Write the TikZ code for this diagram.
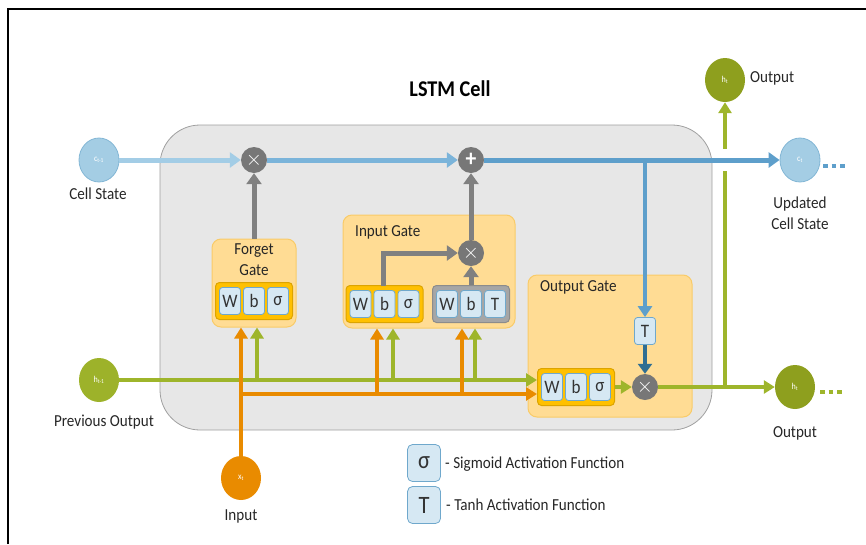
\documentclass[tikz,border=0pt]{standalone}
\usepackage{fontspec}
\setmainfont{Carlito}[FakeStretch=0.9]
\usetikzlibrary{arrows.meta,shapes.geometric}

\definecolor{cellfill}{HTML}{E7E7E7}
\definecolor{cellline}{HTML}{A0A0A0}
\definecolor{gatefill}{HTML}{FFDC94}
\definecolor{gateline}{HTML}{F9CB68}
\definecolor{barfill}{HTML}{FFC000}
\definecolor{barline}{HTML}{DCA400}
\definecolor{tanhfill}{HTML}{A6A6A6}
\definecolor{tanhline}{HTML}{8C8C8C}
\definecolor{unitfill}{HTML}{D6E8F3}
\definecolor{unitline}{HTML}{6FA8CC}
\definecolor{opgray}{HTML}{777777}
\definecolor{arrgray}{HTML}{808080}
\definecolor{blueA}{HTML}{A3CDE6}
\definecolor{blueB}{HTML}{7BB4DA}
\definecolor{blueC}{HTML}{5E9FCB}
\definecolor{blueD}{HTML}{2F6E92}
\definecolor{cfill}{HTML}{A4CDE4}
\definecolor{cline}{HTML}{82B6D5}
\definecolor{grn}{HTML}{9EB52B}
\definecolor{hfill}{HTML}{8E9F1E}
\definecolor{hprevfill}{HTML}{9DB22A}
\definecolor{org}{HTML}{E98B00}

% one W | b | f block of a gate
\newcommand\gatebar[5]{%
  \node[#5] (#1) at (#2,#3) {};
  \node[unit] (#1-w) at (#2-24,#3) {W};
  \node[unit] (#1-b) at (#2,#3) {b};
  \node[unit] (#1-f) at (#2+24,#3) {#4};
}

\begin{document}
\begin{tikzpicture}[x=1pt,y=-1pt,
  lab/.style={font=\fontsize{16.8}{19}\selectfont, text=black!85, align=center, inner sep=0pt},
  state/.style={ellipse, minimum width=40pt, minimum height=44pt, inner sep=0pt,
                text=white, font=\fontsize{9}{9}\selectfont},
  cstate/.style={state, fill=cfill, draw=cline, line width=0.8pt},
  hstate/.style={state, fill=hfill},
  op/.style={circle, fill=opgray, minimum size=26pt, inner sep=0pt, text=white},
  gatebox/.style={fill=gatefill, draw=gateline, line width=1pt, rounded corners=9pt},
  sigbar/.style={fill=barfill, draw=barline, line width=1pt, rounded corners=4pt,
                 minimum width=77pt, minimum height=37pt},
  tanhbar/.style={sigbar, fill=tanhfill, draw=tanhline},
  unit/.style={fill=unitfill, draw=unitline, line width=0.8pt, rounded corners=3pt,
               minimum width=21pt, minimum height=27pt, inner sep=0pt,
               font=\fontsize{19}{19}\selectfont, text=black!80},
  thick arrow/.style={line width=5pt, -{Triangle[length=11pt,width=15pt]}},
  thin arrow/.style={line width=4pt, -{Triangle[length=11pt,width=13pt]}},
]
\useasboundingbox (0,0) rectangle (866,544);

% frame
\draw[line width=2pt] (8,544) -- (8,9) -- (866,9);

% title
\node[font=\bfseries\fontsize{22.5}{24}\selectfont] (title) at (450,89) {LSTM Cell};

% cell body
\node[fill=cellfill, draw=cellline, line width=0.8pt, rounded corners=40pt,
      minimum width=552pt, minimum height=305pt] (cell) at (436,277.5) {};

% gate areas
\node[gatebox, minimum width=84pt, minimum height=88pt] (fgate) at (254,283) {};
\node[gatebox, minimum width=172pt, minimum height=113pt] (igate) at (429,271.5) {};
\node[gatebox, minimum width=164pt, minimum height=142pt] (ogate) at (610,346) {};

\node[lab] (fgatelab) at (254,260) {Forget\\[2pt]Gate};
\node[lab, anchor=west] (igatelab) at (355,232) {Input Gate};
\node[lab, anchor=west] (ogatelab) at (540,287) {Output Gate};

% gate blocks
\gatebar{fbar}{254}{301}{σ}{sigbar}
\gatebar{ibar}{384.5}{304}{σ}{sigbar}
\gatebar{tbar}{471}{304}{T}{tanhbar}
\gatebar{obar}{576}{387}{σ}{sigbar}

% pointwise operations
\node[op, font=\fontsize{20}{20}\selectfont] (fx) at (254,160) {$\times$};
\node[op, font=\bfseries\fontsize{24}{24}\selectfont] (add) at (471,160) {+};
\node[op, font=\fontsize{20}{20}\selectfont] (ix) at (471,253) {$\times$};
\node[op, font=\fontsize{20}{20}\selectfont] (ox) at (645,387) {$\times$};
\node[unit] (tout) at (645,331) {T};

% states
\node[cstate] (cprev) at (99,160) {c\textsubscript{t-1}};
\node[cstate] (cnext) at (800,160) {c\textsubscript{t}};
\node[hstate, fill=hprevfill] (hprev) at (99,380) {h\textsubscript{t-1}};
\node[hstate] (hnext) at (795,387) {h\textsubscript{t}};
\node[hstate] (hup) at (725,80) {h\textsubscript{t}};
\node[state, fill=org] (xin) at (241,478) {x\textsubscript{t}};

\node[lab] (cprevlab) at (98,194) {Cell State};
\node[lab] (cnextlab) at (800,213) {Updated\\[2pt]Cell State};
\node[lab] (hprevlab) at (104,422) {Previous Output};
\node[lab] (hnextlab) at (795,433) {Output};
\node[lab, anchor=west] (huplab) at (750,78) {Output};
\node[lab] (xinlab) at (241,516) {Input};

% output branch up to h_t
\coordinate (hsplit) at (725,387);
\draw[grn, thin arrow] (hsplit) -- (hup);
\draw[white, line width=6pt] (hsplit |- cnext) ++(0,-11) -- ++(0,22);

% cell state path
\draw[blueA, thick arrow] (cprev) -- (fx);
\draw[blueB, thick arrow] (fx) -- (add);
\draw[blueC, thick arrow] (add) -- (cnext);
\coordinate (csplit) at (645,160);
\draw[blueC, line width=4pt, -{Triangle[length=11pt,width=14pt]}] (csplit) -- (tout);
\draw[blueD, line width=4pt, -{Triangle[length=10pt,width=14pt]}] (tout) -- (ox);

% gate outputs
\draw[arrgray, thick arrow] (fgate) -- (fx);
\coordinate (isig) at (383,286);
\draw[arrgray, thick arrow] (isig) |- (ix);
\draw[arrgray, thick arrow] (tbar) -- (ix);
\draw[arrgray, thick arrow] (ix) -- (add);

% previous output h_{t-1}
\draw[grn, thin arrow] (hprev) -- (hprev -| obar.west);
\foreach \gx/\gate in {257/fgate, 393/igate, 475/igate}
  \draw[grn, thin arrow] (\gx,380) -- (\gx,0 |- \gate.south);

% input x_t
\coordinate (xsplit) at (241,394);
\draw[org, thin arrow] (xin) -- (xin |- fgate.south);
\draw[org, thin arrow] (xsplit) -- (xsplit -| obar.west);
\foreach \gx in {377, 462}
  \draw[org, thin arrow] (\gx,394) -- (\gx,0 |- igate.south);

% output gate to h_t
\draw[grn, thin arrow] (obar) -- (ox);
\draw[grn, thin arrow] (ox) -- (hnext);

% continuation dots
\coordinate (cdots) at (823,166);
\coordinate (hdots) at (820,392);
\draw[blueC, line width=4.5pt, dash pattern=on 4.5pt off 4pt] (cdots) -- ++(21.5,0);
\draw[grn, line width=4.5pt, dash pattern=on 4.5pt off 4pt] (hdots) -- ++(21.5,0);

% legend
\node[unit, minimum width=33pt, minimum height=37pt, rounded corners=5pt,
      font=\fontsize{25}{25}\selectfont] (legsig) at (424,463) {σ};
\node[unit, minimum width=33pt, minimum height=37pt, rounded corners=5pt,
      font=\fontsize{25}{25}\selectfont] (legtanh) at (424,505) {T};
\node[lab, anchor=west] (legsiglab) at (445,464) {- Sigmoid Activation Function};
\node[lab, anchor=west] (legtanhlab) at (446,505) {- Tanh Activation Function};
\end{tikzpicture}
\end{document}
